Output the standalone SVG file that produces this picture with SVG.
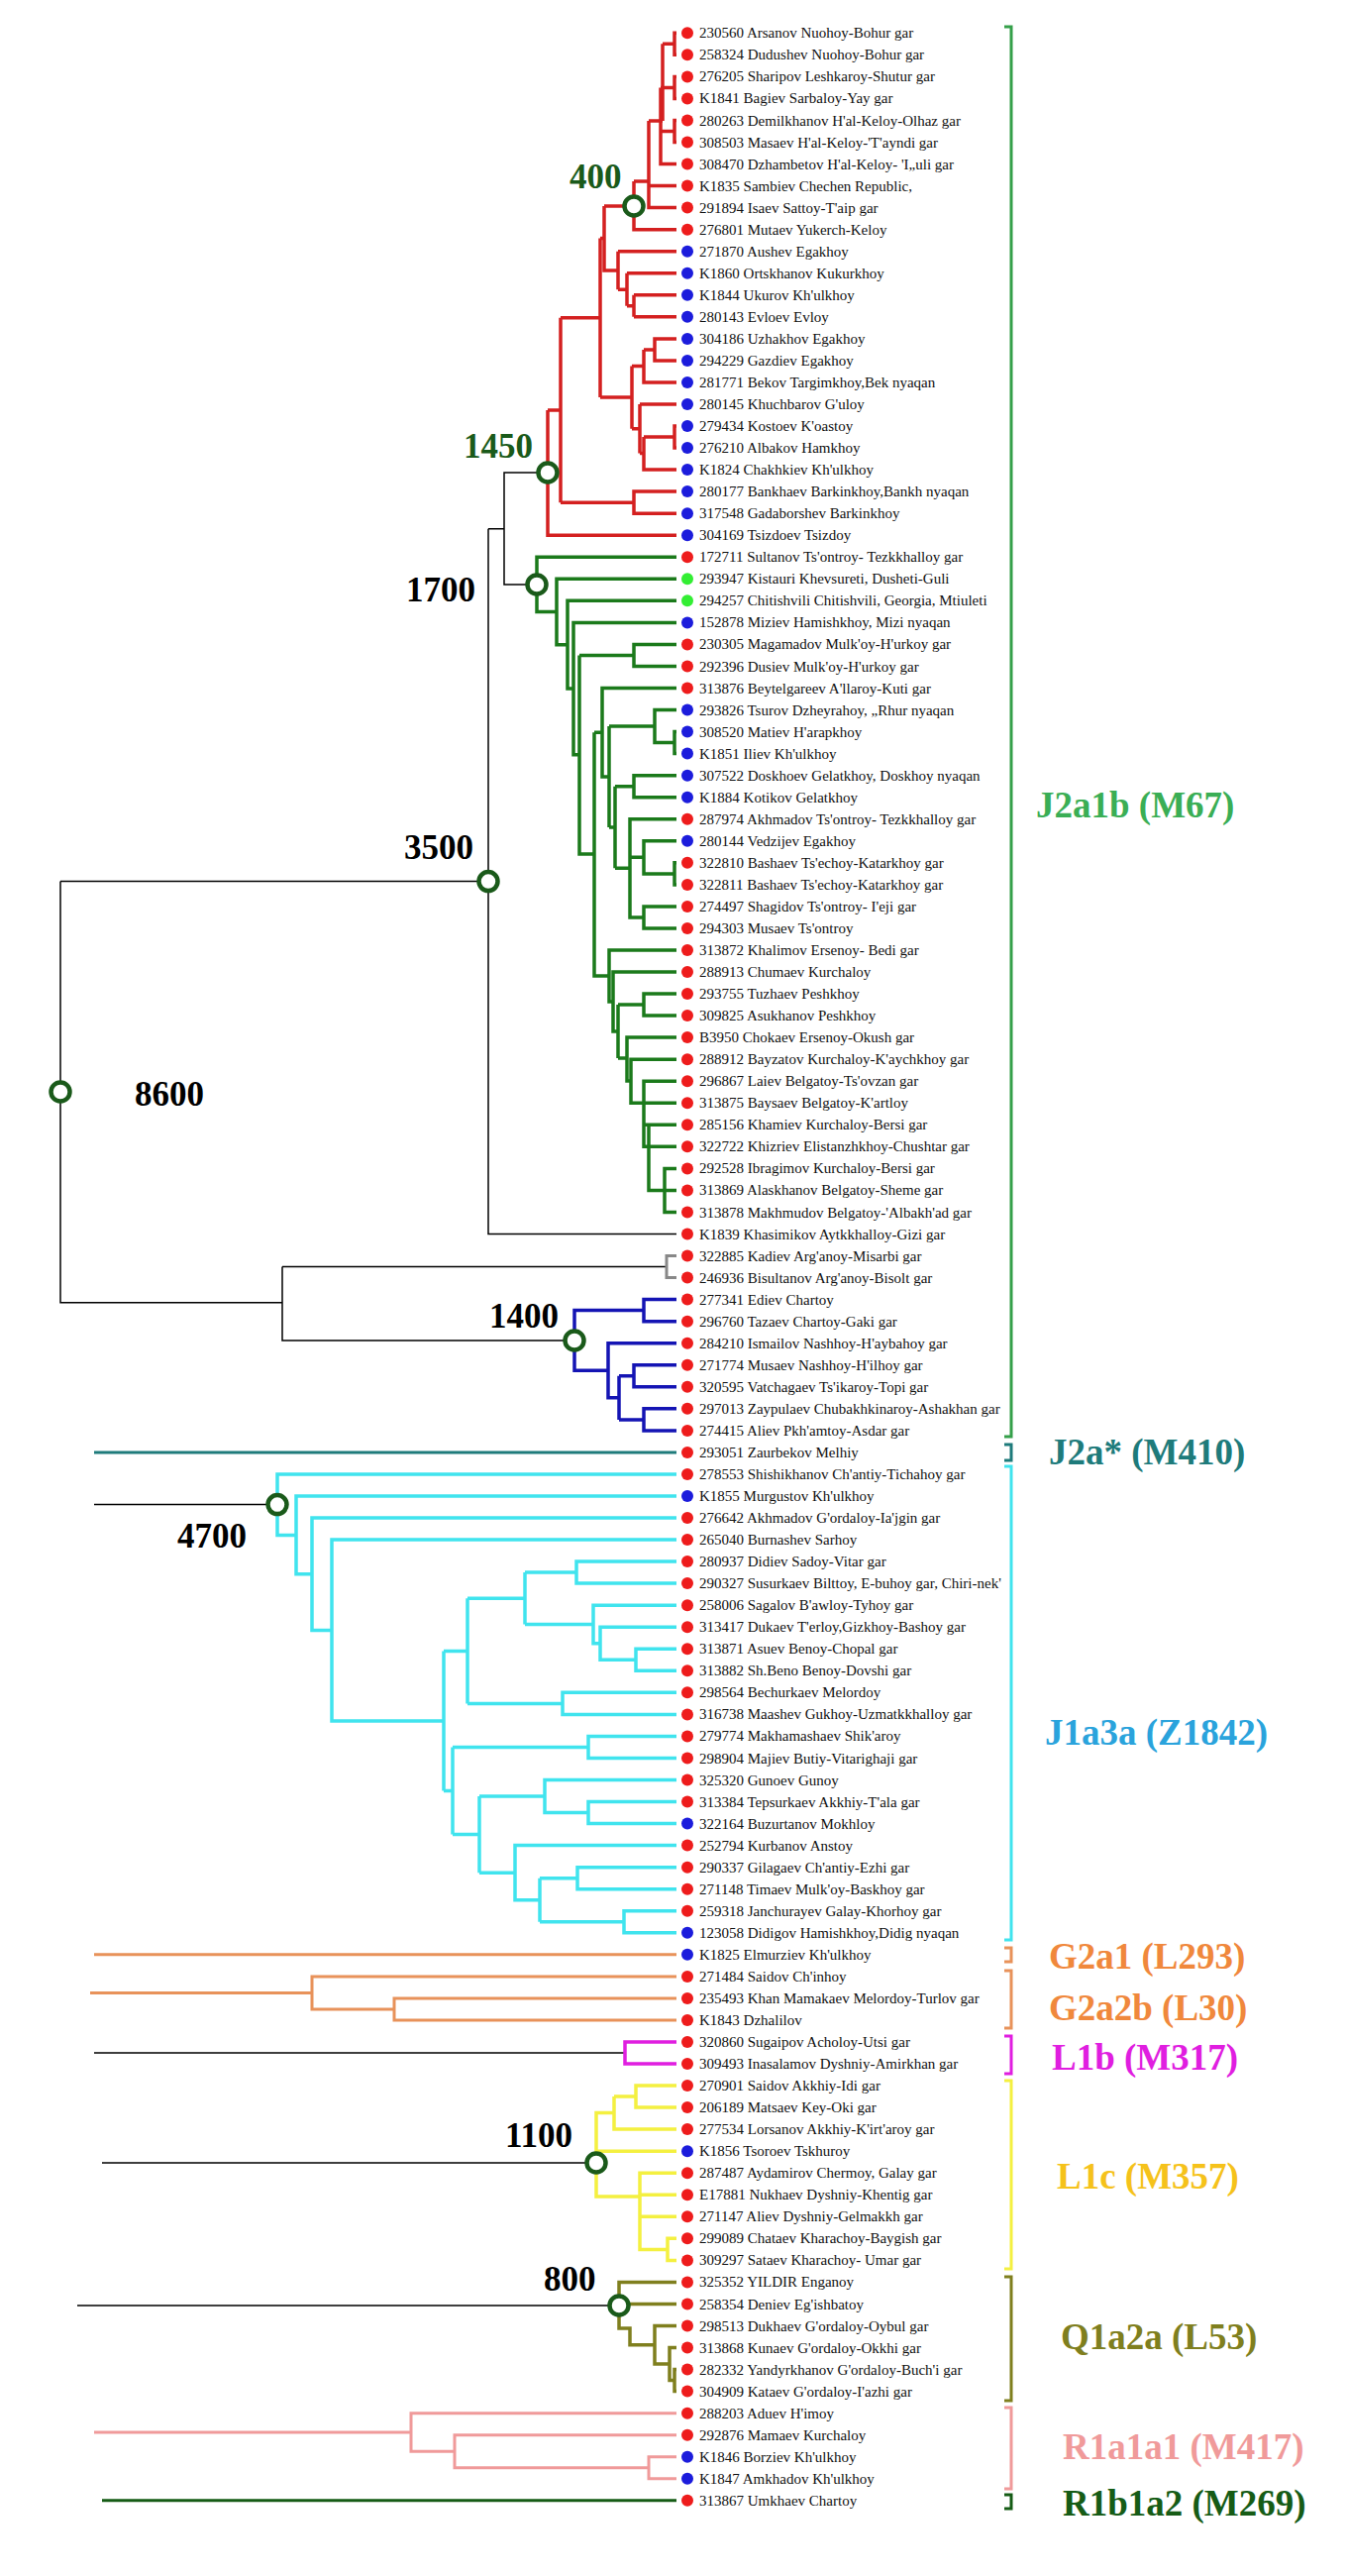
<svg xmlns="http://www.w3.org/2000/svg" width="1360" height="2600" viewBox="0 0 1360 2600">
<style>
.t{font-family:"Liberation Serif","Times New Roman",serif;font-size:15px;fill:#111}
.lb{font-family:"Liberation Serif","Times New Roman",serif;font-weight:bold;font-size:35px}
.hg{font-family:"Liberation Serif","Times New Roman",serif;font-weight:bold;font-size:37px}
.r{fill:#ee1c1c}.b{fill:#1c1cdc}.g{fill:#33ee33}
.nd{fill:#fff;stroke:#1a5a1a;stroke-width:4.5}
path{fill:none}
.w{stroke-width:3.5}
.k{stroke:#000;stroke-width:1.5}
.br{stroke-width:3}
</style>
<rect width="1360" height="2600" fill="#fff"/>
<g id="connectors">
<path class="w" stroke="#d42020" d="M683,33.3H681V55.3H683M681,44.3H669M683,77.4H681V99.4H683M681,88.4H667M683,121.5H681V143.5H683M681,132.5H667M669,44.3V122M667,88.4V165.5H683M655,122H669M683,187.6H655M655,122V209.6H683M655,183H640M640,183V231.7H683M610,208H640M610,208V273H624M624,253.7V292.3M683,253.7H624M624,292.3H633M633,275.7V308.8M683,275.7H633M633,308.8H640M640,297.8V319.8M683,297.8H640M683,319.8H640M606,240.5H610M606,240.5V401.1M566,320.8H606M638,401.1H606M683,341.9H661V363.9H683M661,352.9H650M650,352.9V385.9H683M650,369.4H638M638,369.4V432.8M638,432.8H646M646,408V457.6M683,408H646M646,457.6H650M650,441V474.1H683M650,441H681M683,430H681V452.1H683M683,496.1H640V518.2H683M640,507.2H566M566,320.8V507.2M566,414H553M553,414V540.2H683"/>
<path class="w" stroke="#1b7a1b" d="M683,562.3H542V617.5H562M683,584.3H562V650.7H573M683,606.3H573V695H579M683,628.4H579V761.8H585M683,650.4H640V672.5H683M640,661.5H585M585,661.5V862H600M600,739.3V985H615M600,739.3H608M683,694.5H608V784H615M615,733V835M615,733H661M683,716.5H661V749.6H681M683,738.6H681V760.6H683M615,835H621M621,793.7V876.3M621,793.7H640M683,782.7H640V804.7H683M621,876.3H636M683,826.7H636V925.9H650M636,865.3H650M683,848.8H650V881.9H681M683,870.8H681V892.9H683M683,914.9H650V936.9H683M683,959H615V1011H619M683,981H619V1041H624M624,1014.1V1068M624,1014.1H650M683,1003.1H650V1025.1H683M624,1068H633M683,1047.1H633V1091H637M683,1069.2H637V1113.3H683M683,1091.2H650V1157.3H683M650,1135.3H683M655,1135.3V1201.4H671M683,1179.4H671V1223.5H683M671,1201.4H683"/>
<path class="k" d="M553,477H509V590H542M509,533.7H493M493,533.7V1245.5H683M61,889.6H493M61,889.6V1314.8H285M285,1278.5V1353H580M285,1278.5H673M95,1518.6H280M95,2072H631M103,2183H602M78,2327H625"/>
<path stroke="#888" stroke-width="3" d="M683,1267.5H673V1289.6H683"/>
<path class="w" stroke="#1414b4" d="M683,1311.6H650V1333.7H683M650,1322.6H580V1383.3H614M683,1355.7H614V1410.8H625M625,1388.8V1432.9M625,1388.8H640M683,1377.7H640V1399.8H683M625,1432.9H650M683,1421.8H650V1443.9H683"/>
<path stroke="#1e7b7b" stroke-width="3" d="M95,1465.9H683"/>
<path class="w" stroke="#40e4ee" d="M683,1487.9H280V1549.4H299M683,1510H299V1588.8H315M683,1532H315V1645.5H335M683,1554.1H335V1737H448M448,1666.4V1807.5M448,1666.4H472M472,1613.3V1719.4M472,1613.3H530M530,1587.1V1639.5M530,1587.1H582M683,1576.1H582V1598.1H683M530,1639.5H599M683,1620.2H599V1658.8H606M683,1642.2H606V1675.3H642M683,1664.3H642V1686.3H683M472,1719.4H568M683,1708.3H568V1730.4H683M448,1807.5H457M457,1763.5V1851.6M457,1763.5H594M683,1752.4H594V1774.5H683M457,1851.6H484M484,1813V1890.2M484,1813H550M683,1796.5H550V1829.6H594M683,1818.5H594V1840.6H683M484,1890.2H520M683,1862.6H520V1917.7H545M545,1895.7V1939.8M545,1895.7H583M683,1884.7H583V1906.7H683M545,1939.8H630M683,1928.7H630V1950.8H683"/>
<path stroke="#e8925a" stroke-width="3" d="M95,1972.8H683M91,2011.4H315M683,1994.9H315V2027.9H398M683,2016.9H398V2038.9H683"/>
<path class="w" stroke="#e01ee0" d="M683,2061H631V2083H683"/>
<path class="w" stroke="#f4f040" d="M683,2105.1H642V2127.1H683M642,2116.1H620M683,2149.1H620V2116.1M620,2132.6H602V2217H646M683,2171.2H602M683,2193.2H646V2270.4H674M683,2215.3H646M683,2237.3H646M683,2259.3H674V2281.4H683"/>
<path class="w" stroke="#7f7f1e" d="M683,2303.4H625V2350H636V2366.8H661M683,2325.5H625M683,2347.5H661V2386H676M683,2369.5H676V2402.6H681M683,2391.6H681V2413.6H683"/>
<path stroke="#f09a9a" stroke-width="3" d="M95,2455H415V2435.7H683M415,2455V2474.2H459M683,2457.7H459V2490.8H655M683,2479.7H655V2501.8H683"/>
<path stroke="#165c16" stroke-width="3" d="M103,2523.8H683"/>
</g>
<g id="brackets">
<path class="br" stroke="#35a04a" d="M1014,27H1021V1450H1014"/>
<path class="br" stroke="#1e7b7b" d="M1014,1458H1021V1474H1014"/>
<path class="br" stroke="#40e4ee" d="M1014,1480H1021V1958H1014"/>
<path class="br" stroke="#e8925a" d="M1014,1966H1021V1980H1014"/>
<path class="br" stroke="#e8925a" d="M1014,1989H1021V2047H1014"/>
<path class="br" stroke="#e01ee0" d="M1014,2055H1021V2093H1014"/>
<path class="br" stroke="#f4f040" d="M1014,2100H1021V2290H1014"/>
<path class="br" stroke="#7f7f1e" d="M1014,2298H1021V2423H1014"/>
<path class="br" stroke="#f09a9a" d="M1014,2430H1021V2512H1014"/>
<path class="br" stroke="#165c16" d="M1014,2518H1021V2532H1014"/>
<text class="hg" x="1046" y="825" fill="#3aae55">J2a1b (M67)</text>
<text class="hg" x="1059" y="1478" fill="#1e7b7b">J2a* (M410)</text>
<text class="hg" x="1055" y="1761" fill="#2aa3dc">J1a3a (Z1842)</text>
<text class="hg" x="1059" y="1987" fill="#f0883c">G2a1 (L293)</text>
<text class="hg" x="1059" y="2039" fill="#f0883c">G2a2b (L30)</text>
<text class="hg" x="1062" y="2089" fill="#e01ee0">L1b (M317)</text>
<text class="hg" x="1067" y="2209" fill="#f5c21b">L1c (M357)</text>
<text class="hg" x="1071" y="2371" fill="#7f7f1e">Q1a2a (L53)</text>
<text class="hg" x="1073" y="2482" fill="#f09a9a">R1a1a1 (M417)</text>
<text class="hg" x="1073" y="2539" fill="#165c16">R1b1a2 (M269)</text>
</g>
<g id="node-400"><circle class="nd" cx="640" cy="208" r="9.5"/><text class="lb" x="575" y="190" fill="#1a5a1a">400</text></g>
<g id="node-1450"><circle class="nd" cx="553" cy="477" r="9.5"/><text class="lb" x="468" y="462" fill="#1a5a1a">1450</text></g>
<g id="node-1700"><circle class="nd" cx="542" cy="590" r="9.5"/><text class="lb" x="480" y="607" text-anchor="end" fill="#000">1700</text></g>
<g id="node-3500"><circle class="nd" cx="493" cy="889.6" r="9.5"/><text class="lb" x="478" y="867" text-anchor="end" fill="#000">3500</text></g>
<g id="node-8600"><circle class="nd" cx="61" cy="1102" r="9.5"/><text class="lb" x="136" y="1116" fill="#000">8600</text></g>
<g id="node-1400"><circle class="nd" cx="580" cy="1353" r="9.5"/><text class="lb" x="494" y="1340" fill="#000">1400</text></g>
<g id="node-4700"><circle class="nd" cx="280" cy="1518.6" r="9.5"/><text class="lb" x="179" y="1562" fill="#000">4700</text></g>
<g id="node-1100"><circle class="nd" cx="602" cy="2183" r="9.5"/><text class="lb" x="510" y="2167" fill="#000">1100</text></g>
<g id="node-800"><circle class="nd" cx="625" cy="2327" r="9.5"/><text class="lb" x="549" y="2312" fill="#000">800</text></g>
<g id="leaves">
<g id="L1"><circle class="r" cx="694" cy="33.3" r="6"/><text class="t" x="706" y="38.3">230560 Arsanov Nuohoy-Bohur gar</text></g>
<g id="L2"><circle class="r" cx="694" cy="55.3" r="6"/><text class="t" x="706" y="60.3">258324 Dudushev Nuohoy-Bohur gar</text></g>
<g id="L3"><circle class="r" cx="694" cy="77.4" r="6"/><text class="t" x="706" y="82.4">276205 Sharipov Leshkaroy-Shutur gar</text></g>
<g id="L4"><circle class="r" cx="694" cy="99.4" r="6"/><text class="t" x="706" y="104.4">K1841 Bagiev Sarbaloy-Yay gar</text></g>
<g id="L5"><circle class="r" cx="694" cy="121.5" r="6"/><text class="t" x="706" y="126.5">280263 Demilkhanov H'al-Keloy-Olhaz gar</text></g>
<g id="L6"><circle class="r" cx="694" cy="143.5" r="6"/><text class="t" x="706" y="148.5">308503 Masaev H'al-Keloy-'T'ayndi gar</text></g>
<g id="L7"><circle class="r" cx="694" cy="165.5" r="6"/><text class="t" x="706" y="170.5">308470 Dzhambetov H'al-Keloy- 'I„uli gar</text></g>
<g id="L8"><circle class="r" cx="694" cy="187.6" r="6"/><text class="t" x="706" y="192.6">K1835 Sambiev Chechen Republic,</text></g>
<g id="L9"><circle class="r" cx="694" cy="209.6" r="6"/><text class="t" x="706" y="214.6">291894 Isaev Sattoy-T'aip gar</text></g>
<g id="L10"><circle class="r" cx="694" cy="231.7" r="6"/><text class="t" x="706" y="236.7">276801 Mutaev Yukerch-Keloy</text></g>
<g id="L11"><circle class="b" cx="694" cy="253.7" r="6"/><text class="t" x="706" y="258.7">271870 Aushev Egakhoy</text></g>
<g id="L12"><circle class="b" cx="694" cy="275.7" r="6"/><text class="t" x="706" y="280.7">K1860 Ortskhanov Kukurkhoy</text></g>
<g id="L13"><circle class="b" cx="694" cy="297.8" r="6"/><text class="t" x="706" y="302.8">K1844 Ukurov Kh'ulkhoy</text></g>
<g id="L14"><circle class="b" cx="694" cy="319.8" r="6"/><text class="t" x="706" y="324.8">280143 Evloev Evloy</text></g>
<g id="L15"><circle class="b" cx="694" cy="341.9" r="6"/><text class="t" x="706" y="346.9">304186 Uzhakhov Egakhoy</text></g>
<g id="L16"><circle class="b" cx="694" cy="363.9" r="6"/><text class="t" x="706" y="368.9">294229 Gazdiev Egakhoy</text></g>
<g id="L17"><circle class="b" cx="694" cy="385.9" r="6"/><text class="t" x="706" y="390.9">281771 Bekov Targimkhoy,Bek nyaqan</text></g>
<g id="L18"><circle class="b" cx="694" cy="408" r="6"/><text class="t" x="706" y="413">280145 Khuchbarov G'uloy</text></g>
<g id="L19"><circle class="b" cx="694" cy="430" r="6"/><text class="t" x="706" y="435">279434 Kostoev K'oastoy</text></g>
<g id="L20"><circle class="b" cx="694" cy="452.1" r="6"/><text class="t" x="706" y="457.1">276210 Albakov Hamkhoy</text></g>
<g id="L21"><circle class="b" cx="694" cy="474.1" r="6"/><text class="t" x="706" y="479.1">K1824 Chakhkiev Kh'ulkhoy</text></g>
<g id="L22"><circle class="b" cx="694" cy="496.1" r="6"/><text class="t" x="706" y="501.1">280177 Bankhaev Barkinkhoy,Bankh nyaqan</text></g>
<g id="L23"><circle class="b" cx="694" cy="518.2" r="6"/><text class="t" x="706" y="523.2">317548 Gadaborshev Barkinkhoy</text></g>
<g id="L24"><circle class="b" cx="694" cy="540.2" r="6"/><text class="t" x="706" y="545.2">304169 Tsizdoev Tsizdoy</text></g>
<g id="L25"><circle class="r" cx="694" cy="562.3" r="6"/><text class="t" x="706" y="567.3">172711 Sultanov Ts'ontroy- Tezkkhalloy gar</text></g>
<g id="L26"><circle class="g" cx="694" cy="584.3" r="6"/><text class="t" x="706" y="589.3">293947 Kistauri Khevsureti, Dusheti-Guli</text></g>
<g id="L27"><circle class="g" cx="694" cy="606.3" r="6"/><text class="t" x="706" y="611.3">294257 Chitishvili Chitishvili, Georgia, Mtiuleti</text></g>
<g id="L28"><circle class="b" cx="694" cy="628.4" r="6"/><text class="t" x="706" y="633.4">152878 Miziev Hamishkhoy, Mizi nyaqan</text></g>
<g id="L29"><circle class="r" cx="694" cy="650.4" r="6"/><text class="t" x="706" y="655.4">230305 Magamadov Mulk'oy-H'urkoy gar</text></g>
<g id="L30"><circle class="r" cx="694" cy="672.5" r="6"/><text class="t" x="706" y="677.5">292396 Dusiev Mulk'oy-H'urkoy gar</text></g>
<g id="L31"><circle class="r" cx="694" cy="694.5" r="6"/><text class="t" x="706" y="699.5">313876 Beytelgareev A'llaroy-Kuti gar</text></g>
<g id="L32"><circle class="b" cx="694" cy="716.5" r="6"/><text class="t" x="706" y="721.5">293826 Tsurov Dzheyrahoy, „Rhur nyaqan</text></g>
<g id="L33"><circle class="b" cx="694" cy="738.6" r="6"/><text class="t" x="706" y="743.6">308520 Matiev H'arapkhoy</text></g>
<g id="L34"><circle class="b" cx="694" cy="760.6" r="6"/><text class="t" x="706" y="765.6">K1851 Iliev Kh'ulkhoy</text></g>
<g id="L35"><circle class="b" cx="694" cy="782.7" r="6"/><text class="t" x="706" y="787.7">307522 Doskhoev Gelatkhoy, Doskhoy nyaqan</text></g>
<g id="L36"><circle class="b" cx="694" cy="804.7" r="6"/><text class="t" x="706" y="809.7">K1884 Kotikov Gelatkhoy</text></g>
<g id="L37"><circle class="r" cx="694" cy="826.7" r="6"/><text class="t" x="706" y="831.7">287974 Akhmadov Ts'ontroy- Tezkkhalloy gar</text></g>
<g id="L38"><circle class="b" cx="694" cy="848.8" r="6"/><text class="t" x="706" y="853.8">280144 Vedzijev Egakhoy</text></g>
<g id="L39"><circle class="r" cx="694" cy="870.8" r="6"/><text class="t" x="706" y="875.8">322810 Bashaev Ts'echoy-Katarkhoy gar</text></g>
<g id="L40"><circle class="r" cx="694" cy="892.9" r="6"/><text class="t" x="706" y="897.9">322811 Bashaev Ts'echoy-Katarkhoy gar</text></g>
<g id="L41"><circle class="r" cx="694" cy="914.9" r="6"/><text class="t" x="706" y="919.9">274497 Shagidov Ts'ontroy- I'eji gar</text></g>
<g id="L42"><circle class="r" cx="694" cy="936.9" r="6"/><text class="t" x="706" y="941.9">294303 Musaev Ts'ontroy</text></g>
<g id="L43"><circle class="r" cx="694" cy="959" r="6"/><text class="t" x="706" y="964">313872 Khalimov Ersenoy- Bedi gar</text></g>
<g id="L44"><circle class="r" cx="694" cy="981" r="6"/><text class="t" x="706" y="986">288913 Chumaev Kurchaloy</text></g>
<g id="L45"><circle class="r" cx="694" cy="1003.1" r="6"/><text class="t" x="706" y="1008.1">293755 Tuzhaev Peshkhoy</text></g>
<g id="L46"><circle class="r" cx="694" cy="1025.1" r="6"/><text class="t" x="706" y="1030.1">309825 Asukhanov Peshkhoy</text></g>
<g id="L47"><circle class="r" cx="694" cy="1047.1" r="6"/><text class="t" x="706" y="1052.1">B3950 Chokaev Ersenoy-Okush gar</text></g>
<g id="L48"><circle class="r" cx="694" cy="1069.2" r="6"/><text class="t" x="706" y="1074.2">288912 Bayzatov Kurchaloy-K'aychkhoy gar</text></g>
<g id="L49"><circle class="r" cx="694" cy="1091.2" r="6"/><text class="t" x="706" y="1096.2">296867 Laiev Belgatoy-Ts'ovzan gar</text></g>
<g id="L50"><circle class="r" cx="694" cy="1113.3" r="6"/><text class="t" x="706" y="1118.3">313875 Baysaev Belgatoy-K'artloy</text></g>
<g id="L51"><circle class="r" cx="694" cy="1135.3" r="6"/><text class="t" x="706" y="1140.3">285156 Khamiev Kurchaloy-Bersi gar</text></g>
<g id="L52"><circle class="r" cx="694" cy="1157.3" r="6"/><text class="t" x="706" y="1162.3">322722 Khizriev Elistanzhkhoy-Chushtar gar</text></g>
<g id="L53"><circle class="r" cx="694" cy="1179.4" r="6"/><text class="t" x="706" y="1184.4">292528 Ibragimov Kurchaloy-Bersi gar</text></g>
<g id="L54"><circle class="r" cx="694" cy="1201.4" r="6"/><text class="t" x="706" y="1206.4">313869 Alaskhanov Belgatoy-Sheme gar</text></g>
<g id="L55"><circle class="r" cx="694" cy="1223.5" r="6"/><text class="t" x="706" y="1228.5">313878 Makhmudov Belgatoy-'Albakh'ad gar</text></g>
<g id="L56"><circle class="r" cx="694" cy="1245.5" r="6"/><text class="t" x="706" y="1250.5">K1839 Khasimikov Aytkkhalloy-Gizi gar</text></g>
<g id="L57"><circle class="r" cx="694" cy="1267.5" r="6"/><text class="t" x="706" y="1272.5">322885 Kadiev Arg'anoy-Misarbi gar</text></g>
<g id="L58"><circle class="r" cx="694" cy="1289.6" r="6"/><text class="t" x="706" y="1294.6">246936 Bisultanov Arg'anoy-Bisolt gar</text></g>
<g id="L59"><circle class="r" cx="694" cy="1311.6" r="6"/><text class="t" x="706" y="1316.6">277341 Ediev Chartoy</text></g>
<g id="L60"><circle class="r" cx="694" cy="1333.7" r="6"/><text class="t" x="706" y="1338.7">296760 Tazaev Chartoy-Gaki gar</text></g>
<g id="L61"><circle class="r" cx="694" cy="1355.7" r="6"/><text class="t" x="706" y="1360.7">284210 Ismailov Nashhoy-H'aybahoy gar</text></g>
<g id="L62"><circle class="r" cx="694" cy="1377.7" r="6"/><text class="t" x="706" y="1382.7">271774 Musaev Nashhoy-H'ilhoy gar</text></g>
<g id="L63"><circle class="r" cx="694" cy="1399.8" r="6"/><text class="t" x="706" y="1404.8">320595 Vatchagaev Ts'ikaroy-Topi gar</text></g>
<g id="L64"><circle class="r" cx="694" cy="1421.8" r="6"/><text class="t" x="706" y="1426.8">297013 Zaypulaev Chubakhkinaroy-Ashakhan gar</text></g>
<g id="L65"><circle class="r" cx="694" cy="1443.9" r="6"/><text class="t" x="706" y="1448.9">274415 Aliev Pkh'amtoy-Asdar gar</text></g>
<g id="L66"><circle class="r" cx="694" cy="1465.9" r="6"/><text class="t" x="706" y="1470.9">293051 Zaurbekov Melhiy</text></g>
<g id="L67"><circle class="r" cx="694" cy="1487.9" r="6"/><text class="t" x="706" y="1492.9">278553 Shishikhanov Ch'antiy-Tichahoy gar</text></g>
<g id="L68"><circle class="b" cx="694" cy="1510" r="6"/><text class="t" x="706" y="1515">K1855 Murgustov Kh'ulkhoy</text></g>
<g id="L69"><circle class="r" cx="694" cy="1532" r="6"/><text class="t" x="706" y="1537">276642 Akhmadov G'ordaloy-Ia'jgin gar</text></g>
<g id="L70"><circle class="r" cx="694" cy="1554.1" r="6"/><text class="t" x="706" y="1559.1">265040 Burnashev Sarhoy</text></g>
<g id="L71"><circle class="r" cx="694" cy="1576.1" r="6"/><text class="t" x="706" y="1581.1">280937 Didiev Sadoy-Vitar gar</text></g>
<g id="L72"><circle class="r" cx="694" cy="1598.1" r="6"/><text class="t" x="706" y="1603.1">290327 Susurkaev Bilttoy, E-buhoy gar, Chiri-nek'</text></g>
<g id="L73"><circle class="r" cx="694" cy="1620.2" r="6"/><text class="t" x="706" y="1625.2">258006 Sagalov B'awloy-Tyhoy gar</text></g>
<g id="L74"><circle class="r" cx="694" cy="1642.2" r="6"/><text class="t" x="706" y="1647.2">313417 Dukaev T'erloy,Gizkhoy-Bashoy gar</text></g>
<g id="L75"><circle class="r" cx="694" cy="1664.3" r="6"/><text class="t" x="706" y="1669.3">313871 Asuev Benoy-Chopal gar</text></g>
<g id="L76"><circle class="r" cx="694" cy="1686.3" r="6"/><text class="t" x="706" y="1691.3">313882 Sh.Beno Benoy-Dovshi gar</text></g>
<g id="L77"><circle class="r" cx="694" cy="1708.3" r="6"/><text class="t" x="706" y="1713.3">298564 Bechurkaev Melordoy</text></g>
<g id="L78"><circle class="r" cx="694" cy="1730.4" r="6"/><text class="t" x="706" y="1735.4">316738 Maashev Gukhoy-Uzmatkkhalloy gar</text></g>
<g id="L79"><circle class="r" cx="694" cy="1752.4" r="6"/><text class="t" x="706" y="1757.4">279774 Makhamashaev Shik'aroy</text></g>
<g id="L80"><circle class="r" cx="694" cy="1774.5" r="6"/><text class="t" x="706" y="1779.5">298904 Majiev Butiy-Vitarighaji gar</text></g>
<g id="L81"><circle class="r" cx="694" cy="1796.5" r="6"/><text class="t" x="706" y="1801.5">325320 Gunoev Gunoy</text></g>
<g id="L82"><circle class="r" cx="694" cy="1818.5" r="6"/><text class="t" x="706" y="1823.5">313384 Tepsurkaev Akkhiy-T'ala gar</text></g>
<g id="L83"><circle class="b" cx="694" cy="1840.6" r="6"/><text class="t" x="706" y="1845.6">322164 Buzurtanov Mokhloy</text></g>
<g id="L84"><circle class="r" cx="694" cy="1862.6" r="6"/><text class="t" x="706" y="1867.6">252794 Kurbanov Anstoy</text></g>
<g id="L85"><circle class="r" cx="694" cy="1884.7" r="6"/><text class="t" x="706" y="1889.7">290337 Gilagaev Ch'antiy-Ezhi gar</text></g>
<g id="L86"><circle class="r" cx="694" cy="1906.7" r="6"/><text class="t" x="706" y="1911.7">271148 Timaev Mulk'oy-Baskhoy gar</text></g>
<g id="L87"><circle class="r" cx="694" cy="1928.7" r="6"/><text class="t" x="706" y="1933.7">259318 Janchurayev Galay-Khorhoy gar</text></g>
<g id="L88"><circle class="b" cx="694" cy="1950.8" r="6"/><text class="t" x="706" y="1955.8">123058 Didigov Hamishkhoy,Didig nyaqan</text></g>
<g id="L89"><circle class="b" cx="694" cy="1972.8" r="6"/><text class="t" x="706" y="1977.8">K1825 Elmurziev Kh'ulkhoy</text></g>
<g id="L90"><circle class="r" cx="694" cy="1994.9" r="6"/><text class="t" x="706" y="1999.9">271484 Saidov Ch'inhoy</text></g>
<g id="L91"><circle class="r" cx="694" cy="2016.9" r="6"/><text class="t" x="706" y="2021.9">235493 Khan Mamakaev Melordoy-Turlov gar</text></g>
<g id="L92"><circle class="r" cx="694" cy="2038.9" r="6"/><text class="t" x="706" y="2043.9">K1843 Dzhalilov</text></g>
<g id="L93"><circle class="r" cx="694" cy="2061" r="6"/><text class="t" x="706" y="2066">320860 Sugaipov Acholoy-Utsi gar</text></g>
<g id="L94"><circle class="r" cx="694" cy="2083" r="6"/><text class="t" x="706" y="2088">309493 Inasalamov Dyshniy-Amirkhan gar</text></g>
<g id="L95"><circle class="r" cx="694" cy="2105.1" r="6"/><text class="t" x="706" y="2110.1">270901 Saidov Akkhiy-Idi gar</text></g>
<g id="L96"><circle class="r" cx="694" cy="2127.1" r="6"/><text class="t" x="706" y="2132.1">206189 Matsaev Key-Oki gar</text></g>
<g id="L97"><circle class="r" cx="694" cy="2149.1" r="6"/><text class="t" x="706" y="2154.1">277534 Lorsanov Akkhiy-K'irt'aroy gar</text></g>
<g id="L98"><circle class="b" cx="694" cy="2171.2" r="6"/><text class="t" x="706" y="2176.2">K1856 Tsoroev Tskhuroy</text></g>
<g id="L99"><circle class="r" cx="694" cy="2193.2" r="6"/><text class="t" x="706" y="2198.2">287487 Aydamirov Chermoy, Galay gar</text></g>
<g id="L100"><circle class="r" cx="694" cy="2215.3" r="6"/><text class="t" x="706" y="2220.3">E17881 Nukhaev Dyshniy-Khentig gar</text></g>
<g id="L101"><circle class="r" cx="694" cy="2237.3" r="6"/><text class="t" x="706" y="2242.3">271147 Aliev Dyshniy-Gelmakkh gar</text></g>
<g id="L102"><circle class="r" cx="694" cy="2259.3" r="6"/><text class="t" x="706" y="2264.3">299089 Chataev Kharachoy-Baygish gar</text></g>
<g id="L103"><circle class="r" cx="694" cy="2281.4" r="6"/><text class="t" x="706" y="2286.4">309297 Sataev Kharachoy- Umar gar</text></g>
<g id="L104"><circle class="r" cx="694" cy="2303.4" r="6"/><text class="t" x="706" y="2308.4">325352 YILDIR Enganoy</text></g>
<g id="L105"><circle class="r" cx="694" cy="2325.5" r="6"/><text class="t" x="706" y="2330.5">258354 Deniev Eg'ishbatoy</text></g>
<g id="L106"><circle class="r" cx="694" cy="2347.5" r="6"/><text class="t" x="706" y="2352.5">298513 Dukhaev G'ordaloy-Oybul gar</text></g>
<g id="L107"><circle class="r" cx="694" cy="2369.5" r="6"/><text class="t" x="706" y="2374.5">313868 Kunaev G'ordaloy-Okkhi gar</text></g>
<g id="L108"><circle class="r" cx="694" cy="2391.6" r="6"/><text class="t" x="706" y="2396.6">282332 Yandyrkhanov G'ordaloy-Buch'i gar</text></g>
<g id="L109"><circle class="r" cx="694" cy="2413.6" r="6"/><text class="t" x="706" y="2418.6">304909 Kataev G'ordaloy-I'azhi gar</text></g>
<g id="L110"><circle class="r" cx="694" cy="2435.7" r="6"/><text class="t" x="706" y="2440.7">288203 Aduev H'imoy</text></g>
<g id="L111"><circle class="r" cx="694" cy="2457.7" r="6"/><text class="t" x="706" y="2462.7">292876 Mamaev Kurchaloy</text></g>
<g id="L112"><circle class="b" cx="694" cy="2479.7" r="6"/><text class="t" x="706" y="2484.7">K1846 Borziev Kh'ulkhoy</text></g>
<g id="L113"><circle class="b" cx="694" cy="2501.8" r="6"/><text class="t" x="706" y="2506.8">K1847 Amkhadov Kh'ulkhoy</text></g>
<g id="L114"><circle class="r" cx="694" cy="2523.8" r="6"/><text class="t" x="706" y="2528.8">313867 Umkhaev Chartoy</text></g>
</g>
</svg>
